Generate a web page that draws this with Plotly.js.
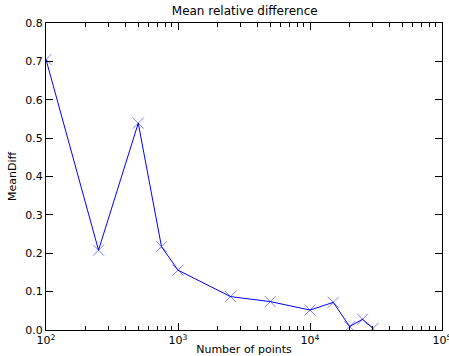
<!DOCTYPE html>
<html><head><meta charset="utf-8">
<script src="https://cdn.plot.ly/plotly-3.0.1.min.js"></script>
<style>html,body{margin:0;padding:0;background:#fff;overflow:hidden}#c{width:449px;height:356px}</style>
</head><body><div id="c"></div>
<script>
const nPoints = [100, 250, 500, 750, 1000, 2500, 5000, 10000, 15000, 20000, 25000, 30000];
const meanDiff = [0.705, 0.208, 0.539, 0.217, 0.156, 0.087, 0.074, 0.052, 0.072, 0.009, 0.028, 0.004];
const xTickVals = [100, 1000, 10000, 100000];
const xTickText = ['10<sup>2</sup>', '10<sup>3</sup>', '10<sup>4</sup>', '10<sup>5</sup>'];
const yTickVals = [0, 0.1, 0.2, 0.3, 0.4, 0.5, 0.6, 0.7, 0.8];
const yTickText = ['0.0', '0.1', '0.2', '0.3', '0.4', '0.5', '0.6', '0.7', '0.8'];

const font = {family: 'DejaVu Sans, sans-serif', size: 11, color: '#000'};
Plotly.newPlot('c', [{
  x: nPoints, y: meanDiff, type: 'scatter', mode: 'lines+markers',
  line: {color: '#0000ff', width: 1},
  marker: {symbol: 'x-thin-open', size: 11, color: 'rgba(0,0,255,0.5)', line: {color: 'rgba(90,90,255,0.6)', width: 1}},
  cliponaxis: true
}], {
  width: 449, height: 356,
  margin: {l: 45.5, r: 7, t: 22.5, b: 26},
  paper_bgcolor: '#fff', plot_bgcolor: '#fff',
  font: font,
  showlegend: false,
  title: {text: 'Mean relative difference', font: {family: font.family, size: 12, color: '#000'}, x: 0.545, xanchor: 'center', y: 0.97, yanchor: 'middle'},
  xaxis: {
    type: 'log', range: [2, 5], tickvals: xTickVals, ticktext: xTickText,
    ticks: 'inside', ticklen: 7, tickwidth: 1, tickcolor: '#000',
    showline: true, linecolor: '#000', linewidth: 1, mirror: 'ticks',
    showgrid: false, zeroline: false, ticklabeloverflow: 'allow',
    minor: {ticks: 'inside', ticklen: 4, tickcolor: '#000', tickvals: [200,300,400,500,600,700,800,900,2000,3000,4000,5000,6000,7000,8000,9000,20000,30000,40000,50000,60000,70000,80000,90000], showgrid: false},
    tickfont: {family: font.family, size: 11, color: '#000'},
    title: {text: 'Number of points', font: {family: font.family, size: 11, color: '#000'}, standoff: 2}
  },
  yaxis: {
    range: [0, 0.8], tickvals: yTickVals, ticktext: yTickText,
    ticks: 'inside', ticklen: 7, tickwidth: 1, tickcolor: '#000',
    showline: true, linecolor: '#000', linewidth: 1, mirror: 'ticks',
    showgrid: false, zeroline: false,
    tickfont: {family: font.family, size: 11, color: '#000'},
    title: {text: 'MeanDiff', font: {family: font.family, size: 11, color: '#000'}, standoff: 6}
  }
}, {staticPlot: true});
</script></body></html>
